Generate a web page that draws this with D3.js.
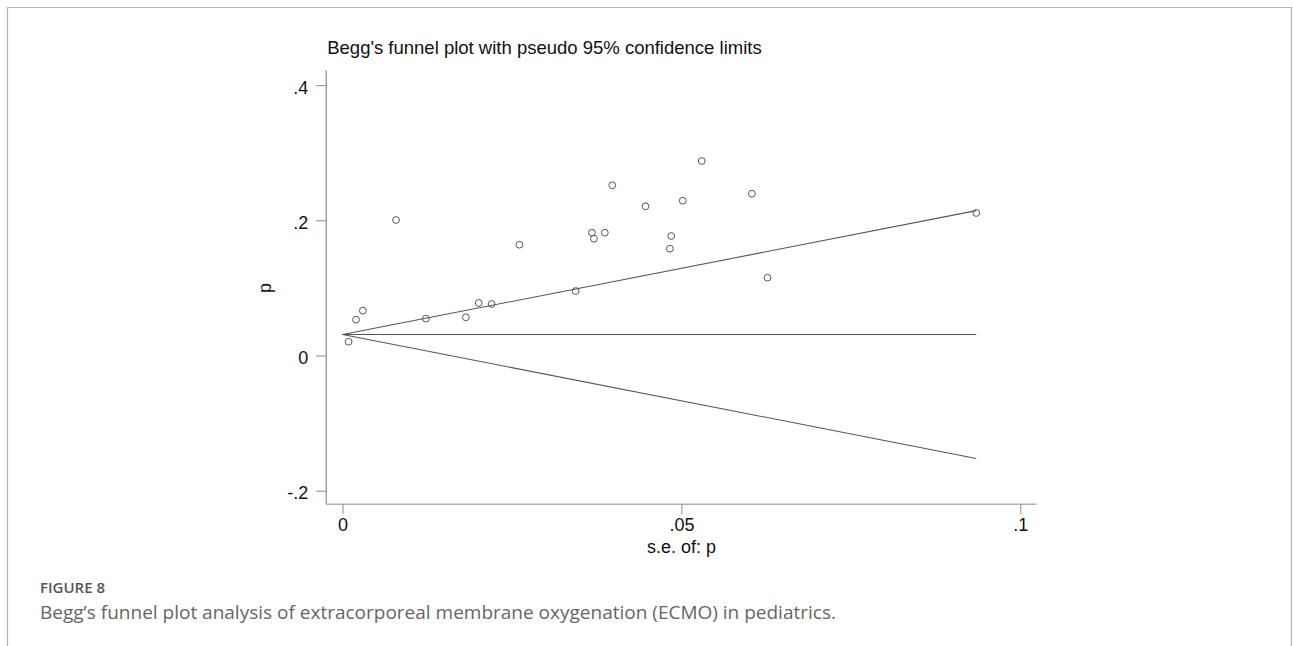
<!DOCTYPE html>
<html><head><meta charset="utf-8">
<script src="https://cdn.jsdelivr.net/npm/d3@7"></script>
<style>
html,body{margin:0;padding:0;background:#fff;}
svg{display:block;}
</style></head>
<body>
<script>
// ---- data ----
const seValues = [0.0009,0.0020,0.0030,0.0079,0.0123,0.0182,0.0201,0.0220,0.0261,0.0344,0.0368,0.0371,0.0387,0.0398,0.0447,0.0483,0.0485,0.0502,0.0530,0.0604,0.0627,0.0935];
const pValues  = [0.0204,0.0530,0.0663,0.2004,0.0545,0.0565,0.0777,0.0762,0.1639,0.0954,0.1817,0.1728,0.1817,0.2518,0.2207,0.1580,0.1768,0.2290,0.2877,0.2393,0.1151,0.2108];
const pooled = 0.031;
const xTicks = [0, 0.05, 0.1];
const xTickLabels = ["0", ".05", ".1"];
const yTicks = [-0.2, 0, 0.2, 0.4];
const yTickLabels = ["-.2", "0", ".2", ".4"];
const chartTitle = "Begg's funnel plot with pseudo 95% confidence limits";
const xTitle = "s.e. of: p";
const yTitle = "p";
const figLabel = "FIGURE 8";
const figCaption = "Begg\u2019s funnel plot analysis of extracorporeal membrane oxygenation (ECMO) in pediatrics.";

const W = 1293, H = 646;
const svg = d3.select("body").append("svg").attr("width", W).attr("height", H);

// page frame
svg.append("path").attr("d", `M7.5,${H} V7.5 H1291.5 V${H}`)
  .attr("fill","none").attr("stroke","#b4b4b4").attr("stroke-width",1.2);

const x = d3.scaleLinear().domain([0, 0.1]).range([342.5, 1020.3]);
const y = d3.scaleLinear().domain([0, 0.2]).range([355.5, 220.3]);
const xMin = -0.0024, xMax = 0.1024, yMin = -0.22, yMax = 0.422;

const font = "'Liberation Sans', Arial, sans-serif";
const axisCol = "#8a8a8a";

// axis lines
svg.append("line").attr("x1", x(xMin)).attr("x2", x(xMax)).attr("y1", y(yMin)).attr("y2", y(yMin))
  .attr("stroke", "#b0b0b0").attr("stroke-width", 1.6);
svg.append("line").attr("x1", x(xMin)).attr("x2", x(xMin)).attr("y1", y(yMin)).attr("y2", y(yMax))
  .attr("stroke", axisCol).attr("stroke-width", 1.2);

// x axis
const gx = svg.append("g").attr("transform", `translate(0,${y(yMin)})`)
  .call(d3.axisBottom(x).tickValues(xTicks).tickFormat((d,i)=>xTickLabels[i]).tickSize(10).tickPadding(4));
gx.select(".domain").remove();
gx.selectAll(".tick line").attr("stroke", axisCol).attr("stroke-width", 1);
gx.selectAll(".tick text").attr("font-family", font).attr("font-size", 18).attr("fill", "#111");

// y axis
const gy = svg.append("g").attr("transform", `translate(${x(xMin)},0)`)
  .call(d3.axisLeft(y).tickValues(yTicks).tickFormat((d,i)=>yTickLabels[i]).tickSize(10).tickPadding(8));
gy.select(".domain").remove();
gy.selectAll(".tick line").attr("stroke", axisCol).attr("stroke-width", 1);
gy.selectAll(".tick text").attr("font-family", font).attr("font-size", 18).attr("fill", "#111").attr("dy", "0.45em");

// funnel lines
const seMax = d3.max(seValues);
const lineCol = "#555";
const line = d3.line().x(d=>x(d[0])).y(d=>y(d[1]));
[[[0,pooled],[seMax,pooled+1.96*seMax]],
 [[0,pooled],[seMax,pooled]],
 [[0,pooled],[seMax,pooled-1.96*seMax]]].forEach(seg=>{
  svg.append("path").attr("d", line(seg)).attr("fill","none").attr("stroke",lineCol).attr("stroke-width",1.1);
});

// points
svg.append("g").selectAll("circle").data(seValues).join("circle")
  .attr("cx", d=>x(d)).attr("cy", (d,i)=>y(pValues[i])).attr("r", 3.4)
  .attr("fill","none").attr("stroke","#555").attr("stroke-width",1);

// titles
svg.append("text").attr("x", x(xMin) + 1).attr("y", 54).text(chartTitle)
  .attr("font-family", font).attr("font-size", 18.5).attr("fill","#111");
svg.append("text").attr("x", x(0.05)).attr("y", 553).attr("text-anchor","middle").text(xTitle)
  .attr("font-family", font).attr("font-size", 18).attr("fill","#111");
svg.append("text").attr("transform", `translate(271,${y(0.1)}) rotate(-90)`).attr("text-anchor","middle").text(yTitle)
  .attr("font-family", font).attr("font-size", 18).attr("fill","#111");

// caption
svg.append("text").attr("x", 40).attr("y", 593).text(figLabel)
  .attr("font-family","'Open Sans', sans-serif").attr("font-size", 15).attr("font-weight", 600).attr("fill","#555");
svg.append("text").attr("x", 40).attr("y", 619).text(figCaption)
  .attr("font-family","'Open Sans', sans-serif").attr("font-size", 19).attr("fill","#666");
</script>
</body></html>
